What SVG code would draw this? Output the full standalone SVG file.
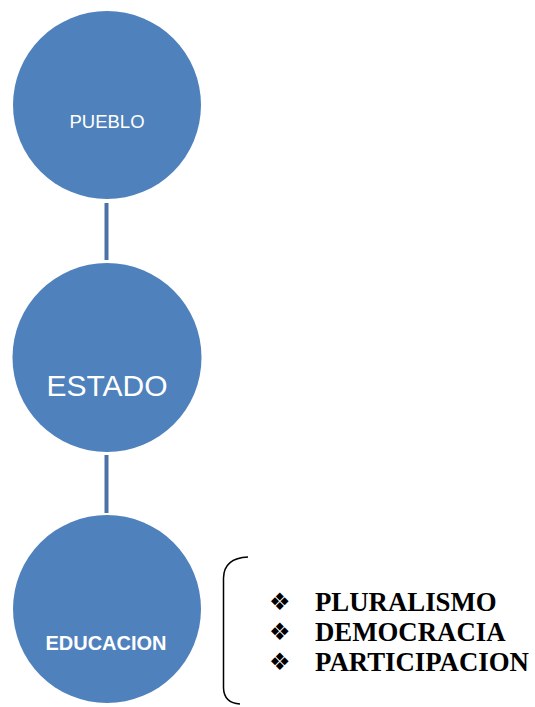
<svg xmlns="http://www.w3.org/2000/svg" width="535" height="707" viewBox="0 0 535 707">
<style>
.node circle{fill:#4f81bd;}
.lbl{fill:#ffffff;font-family:"Liberation Sans",Arial,sans-serif;text-anchor:middle;}
.conn line{stroke:#4a72a8;stroke-width:4;}
.item{font-family:"Liberation Serif","Times New Roman",serif;font-weight:bold;font-size:26.8px;fill:#000;}
.bul{font-family:"DejaVu Sans",sans-serif;font-size:24px;fill:#000;}
</style>
<rect width="535" height="707" fill="#ffffff"/>
<g id="connectors" class="conn">
<line x1="106.5" y1="203" x2="106.5" y2="260"/>
<line x1="106.5" y1="455" x2="106.5" y2="513"/>
</g>
<g id="pueblo" class="node">
<circle cx="107" cy="105" r="94"/>
<text class="lbl" x="107" y="128" font-size="18.5">PUEBLO</text>
</g>
<g id="estado" class="node">
<circle cx="107" cy="357.5" r="94.5"/>
<text class="lbl" x="107" y="396" font-size="30">ESTADO</text>
</g>
<g id="educacion" class="node">
<circle cx="107" cy="609" r="94"/>
<text class="lbl" x="106" y="650" font-size="20" font-weight="bold">EDUCACION</text>
</g>
<g id="lista">
<path d="M248 557 Q224 558 223.5 578 L223.5 688 Q224 703 240 704" fill="none" stroke="#000" stroke-width="1.5"/>
<text class="bul" x="269" y="610">❖</text>
<text class="item" x="315" y="611">PLURALISMO</text>
<text class="bul" x="269" y="640">❖</text>
<text class="item" x="315" y="641">DEMOCRACIA</text>
<text class="bul" x="269" y="670">❖</text>
<text class="item" x="315" y="671">PARTICIPACION</text>
</g>
</svg>
